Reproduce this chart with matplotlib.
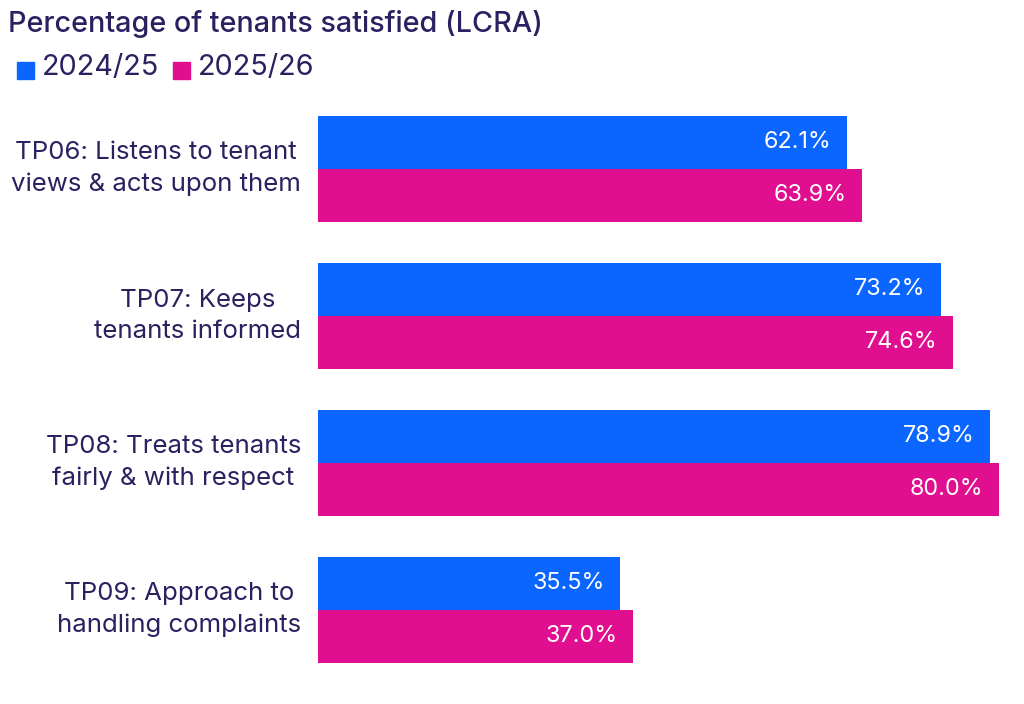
import matplotlib
matplotlib.use("Agg")
import matplotlib.pyplot as plt
import numpy as np

plt.rcParams['font.family'] = ['Inter', 'DejaVu Sans']

categories = ["TP06: Listens to tenant\nviews & acts upon them",
              "TP07: Keeps\ntenants informed",
              "TP08: Treats tenants\nfairly & with respect",
              "TP09: Approach to\nhandling complaints"]
series_names = ["2024/25", "2025/26"]
values_2024 = [62.1, 73.2, 78.9, 35.5]
values_2025 = [63.9, 74.6, 80.0, 37.0]

blue = "#0a66ff"
pink = "#e00f8f"
navy = "#2b2160"

W, H = 1024, 704
fig = plt.figure(figsize=(W / 100, H / 100), dpi=100)
# axes placed so that 0..80 spans px 318..999 and y=-0.5..3.6 spans px 95..698
ax = fig.add_axes([318 / W, 1 - 698 / H, (999 - 318) / W, (698 - 95.4) / H])

y = np.arange(len(categories))
h = 0.36
b1 = ax.barh(y - h / 2, values_2024, height=h, color=blue)
b2 = ax.barh(y + h / 2, values_2025, height=h, color=pink)

ax.set_xlim(0, 80)
ax.set_ylim(3.6, -0.5)
ax.axis("off")

for bars, vals in ((b1, values_2024), (b2, values_2025)):
    for bar, v in zip(bars, vals):
        ax.text(v - 1.8, bar.get_y() + bar.get_height() / 2, f"{v:.1f}%",
                ha="right", va="center", color="white", fontsize=16.8)

for yi, lab in zip(y, categories):
    ax.annotate(lab, xy=(0, yi), xycoords="data", xytext=(-17, 0),
                textcoords="offset pixels", ha="right", va="center",
                multialignment="center", color=navy, fontsize=18.6,
                linespacing=1.45)

fig.text(8 / W, 1 - 24 / H, "Percentage of tenants satisfied (LCRA)",
         ha="left", va="center", color=navy, fontsize=20.7, fontweight="medium")

# legend row
x0 = 17
for name, col in zip(series_names, (blue, pink)):
    fig.patches.append(plt.Rectangle((x0 / W, 1 - 79 / H), 17 / W, 17 / H,
                                     transform=fig.transFigure, color=col))
    fig.text((x0 + 25) / W, 1 - 67 / H, name, ha="left", va="center",
             color=navy, fontsize=20.8)
    x0 += 156

fig.savefig("out.png", dpi=100)
